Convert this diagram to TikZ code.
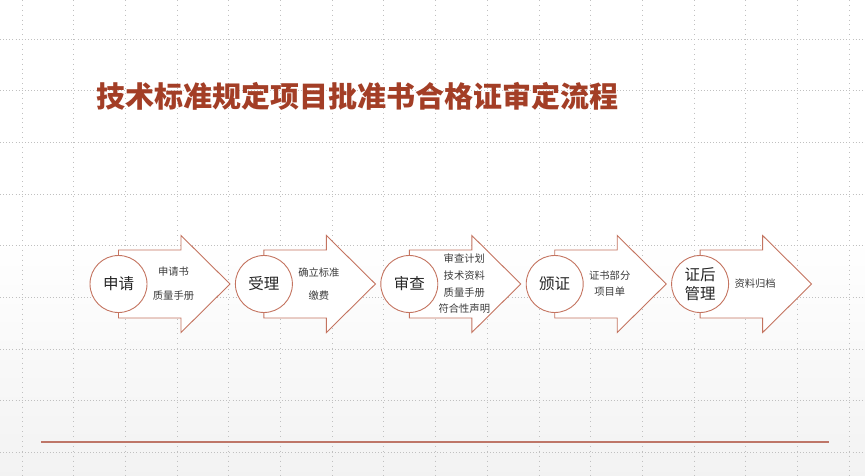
\documentclass[tikz,border=0pt]{standalone}
\usepackage{fontspec}
\newfontfamily\cjk{Noto Sans CJK SC}
\definecolor{arrowc}{RGB}{196,116,96}
\definecolor{titlec}{RGB}{163,62,38}
\definecolor{gridc}{RGB}{192,192,192}
\definecolor{txtc}{RGB}{60,60,60}
\definecolor{linec}{RGB}{190,118,104}
\tikzset{
  gridv/.style={gridc, line width=0.9pt, dash pattern=on 0.9pt off 4pt},
  gridh/.style={gridc, line width=0.9pt, dash pattern=on 0.9pt off 2.2pt},
  arrowshape/.style={draw=arrowc, fill=white, line width=0.9pt, line join=miter},
  stagecircle/.style={circle, draw=arrowc, fill=white, line width=0.9pt, minimum size=57pt, inner sep=0pt,
    font=\cjk\fontsize{15.5}{18}\selectfont, text=black!85, align=center},
  lab/.style={font=\cjk\fontsize{10.3}{16.7}\selectfont, text=txtc, align=center, inner sep=0pt},
}
\begin{document}
\begin{tikzpicture}[x=1pt,y=-1pt]
\useasboundingbox (0,0) rectangle (865,476);
\shade[top color=white, bottom color=black!5, middle color=white] (0,0) rectangle (865,476);
\foreach \i in {0,...,16} \draw[gridv] ({22+51.7*\i},0) -- ({22+51.7*\i},476);
\foreach \j in {0,...,8} \draw[gridh] (0,{39+51.7*\j}) -- (865,{39+51.7*\j});
% title
\node[anchor=west, inner sep=0pt, text=titlec, font=\cjk\bfseries\fontsize{29}{32}\selectfont] (title) at (96,96) {技术标准规定项目批准书合格证审定流程};
% arrows
\foreach \i in {1,...,5} {
  \pgfmathsetmacro\sx{118.5+145.4*(\i-1)}
  \coordinate (s\i) at (\sx,284);
  \draw[arrowshape] (\sx,250) -- ({\sx+62.5},250) -- ({\sx+62.5},235.5) -- ({\sx+111.5},284)
     -- ({\sx+62.5},332.5) -- ({\sx+62.5},318) -- (\sx,318) -- cycle;
}
\node[stagecircle] (c1) at (s1) {申请};
\node[stagecircle] (c2) at (s2) {受理};
\node[stagecircle] (c3) at (s3) {审查};
\node[stagecircle] (c4) at (s4) {颁证};
\node[stagecircle, font=\cjk\fontsize{15.5}{18.5}\selectfont] (c5) at (s5) {证后\\管理};
\node[lab, font=\cjk\fontsize{10.3}{24}\selectfont] (l1) at ([xshift=55pt]s1) {申请书\\质量手册};
\node[lab, font=\cjk\fontsize{10.3}{23}\selectfont] (l2) at ([xshift=55pt]s2) {确立标准\\缴费};
\node[lab] (l3) at ([xshift=55pt]s3) {审查计划\\技术资料\\质量手册\\符合性声明};
\node[lab, font=\cjk\fontsize{10.3}{16}\selectfont] (l4) at ([xshift=55pt]s4) {证书部分\\项目单};
\node[lab] (l5) at ([xshift=55pt]s5) {资料归档};
% bottom rule
\coordinate (bl) at (41.4,442.3);
\coordinate (br) at (828.7,442.3);
\draw[linec, line width=1.8pt] (bl) -- (br);
\end{tikzpicture}
\end{document}
